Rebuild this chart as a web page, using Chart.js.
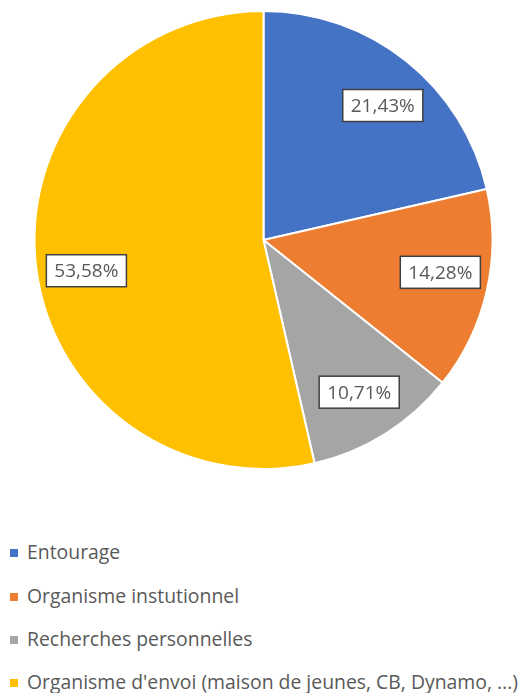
<!DOCTYPE html>
<html lang="fr">
<head>
<meta charset="utf-8">
<script src="https://cdn.jsdelivr.net/npm/chart.js@4"></script>
<style>
  html, body { margin: 0; padding: 0; background: #fff; }
  #wrap { position: relative; width: 525px; height: 480px; }
  #legend { list-style: none; margin: 0; padding: 0; position: absolute; left: 0; top: 530px;
            font-family: "Open Sans", sans-serif; font-size: 19.4px; color: #595959; }
  #legend li { position: absolute; left: 10px; white-space: nowrap; height: 24px; line-height: 24px; }
  #legend span.box { display: inline-block; width: 8px; height: 8px; margin-right: 9px; vertical-align: 2px; }
</style>
</head>
<body>
<div id="wrap"><canvas id="pie"></canvas></div>
<ul id="legend"></ul>
<script>
const categories = [
    'Entourage',
    'Organisme instutionnel',
    'Recherches personnelles',
    "Organisme d'envoi (maison de jeunes, CB, Dynamo, ...)"
];
const shares = [21.43, 14.28, 10.71, 53.58];
const sliceColors = ['#4472C4', '#ED7D31', '#A5A5A5', '#FFC000'];

// small nudges (degrees) so the boxes sit where the office-style best fit puts them
const labelNudge = [3, -2.5, 0, -3.4];

function formatPct(v) {
    return v.toFixed(2).replace('.', ',') + '%';
}

// boxed percentage labels placed along each slice's middle angle
const boxLabels = {
    id: 'boxLabels',
    afterDatasetsDraw(chart) {
        const ctx = chart.ctx;
        const meta = chart.getDatasetMeta(0);
        ctx.save();
        ctx.font = '19px "Open Sans", sans-serif';
        ctx.textAlign = 'center';
        ctx.textBaseline = 'middle';
        meta.data.forEach((arc, i) => {
            const p = arc.getProps(['x', 'y', 'startAngle', 'endAngle', 'outerRadius'], true);
            const mid = (p.startAngle + p.endAngle) / 2 + labelNudge[i] * Math.PI / 180;
            const r = p.outerRadius * 0.785;
            const cx = p.x + Math.cos(mid) * r;
            const cy = p.y + Math.sin(mid) * r;
            const text = formatPct(shares[i]);
            const w = ctx.measureText(text).width + 16;
            const h = 32;
            ctx.fillStyle = '#fff';
            ctx.fillRect(cx - w / 2, cy - h / 2, w, h);
            ctx.strokeStyle = '#404040';
            ctx.lineWidth = 1.5;
            ctx.strokeRect(cx - w / 2, cy - h / 2, w, h);
            ctx.fillStyle = '#595959';
            ctx.fillText(text, cx, cy + 1);
        });
        ctx.restore();
    }
};

new Chart(document.getElementById('pie'), {
    type: 'pie',
    data: {
        labels: categories,
        datasets: [{ data: shares, backgroundColor: sliceColors, borderColor: '#fff', borderWidth: 2 }]
    },
    options: {
        responsive: true,
        maintainAspectRatio: false,
        animation: false,
        layout: { padding: { top: 10, bottom: 10, left: 2, right: 0 } },
        plugins: { legend: { display: false }, tooltip: { enabled: false } }
    },
    plugins: [boxLabels]
});

const legendTops = [0, 44, 87, 130];
const legend = document.getElementById('legend');
categories.forEach((name, i) => {
    const li = document.createElement('li');
    li.style.top = (legendTops[i] + 10) + 'px';
    li.innerHTML = '<span class="box" style="background:' + sliceColors[i] + '"></span>' + name;
    legend.appendChild(li);
});
</script>
</body>
</html>
